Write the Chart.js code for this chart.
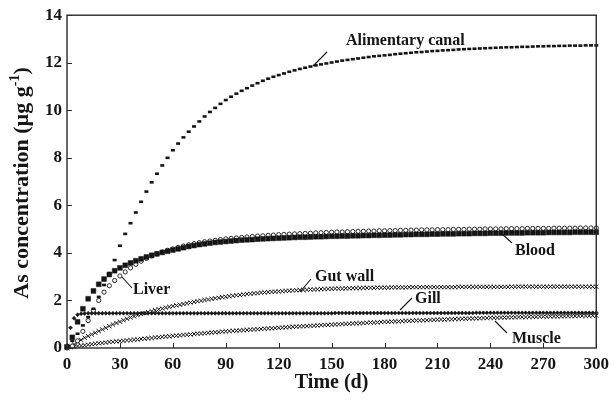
<!DOCTYPE html>
<html>
<head>
<meta charset="utf-8">
<script src="https://cdn.jsdelivr.net/npm/chart.js@4.4.1/dist/chart.umd.min.js"></script>
<style>
html,body{margin:0;padding:0;background:#fff;}
#wrap{width:615px;height:408px;}
</style>
</head>
<body>
<div id="wrap"><canvas id="c" width="615" height="408"></canvas></div>
<script>
// ---- Data ----
const xTicks = [0,30,60,90,120,150,180,210,240,270,300];
const yTicks = [0,2,4,6,8,10,12,14];

const days3 = [0,3,6,9,12,15,18,21,24,27,30,33,36,39,42,45,48,51,54,57,60,63,66,69,72,75,78,81,84,87,90,93,96,99,102,105,108,111,114,117,120,123,126,129,132,135,138,141,144,147,150,153,156,159,162,165,168,171,174,177,180,183,186,189,192,195,198,201,204,207,210,213,216,219,222,225,228,231,234,237,240,243,246,249,252,255,258,261,264,267,270,273,276,279,282,285,288,291,294,297,300];
const days2 = [0,2,4,6,8,10,12,14,16,18,20,22,24,26,28,30,32,34,36,38,40,42,44,46,48,50,52,54,56,58,60,62,64,66,68,70,72,74,76,78,80,82,84,86,88,90,92,94,96,98,100,102,104,106,108,110,112,114,116,118,120,122,124,126,128,130,132,134,136,138,140,142,144,146,148,150,152,154,156,158,160,162,164,166,168,170,172,174,176,178,180,182,184,186,188,190,192,194,196,198,200,202,204,206,208,210,212,214,216,218,220,222,224,226,228,230,232,234,236,238,240,242,244,246,248,250,252,254,256,258,260,262,264,266,268,270,272,274,276,278,280,282,284,286,288,290,292,294,296,298,300];

const alimentaryCanal = [0,0.3,0.6,0.95,1.3,1.65,2.15,2.65,3.15,3.7,
4.3,4.8,5.25,5.7,6.15,6.58,6.97,7.33,7.68,8.0,
8.32,8.6,8.86,9.1,9.32,9.53,9.74,9.93,10.1,10.27,
10.43,10.57,10.7,10.82,10.93,11.04,11.14,11.24,11.33,11.41,
11.48,11.55,11.62,11.68,11.74,11.79,11.84,11.89,11.93,11.97,
12.01,12.05,12.09,12.12,12.15,12.18,12.21,12.24,12.27,12.29,
12.31,12.33,12.36,12.38,12.4,12.42,12.44,12.45,12.47,12.49,
12.5,12.52,12.53,12.54,12.56,12.57,12.58,12.59,12.6,12.61,
12.62,12.63,12.64,12.65,12.65,12.66,12.67,12.67,12.68,12.69,
12.69,12.7,12.7,12.71,12.71,12.72,12.72,12.72,12.73,12.73,
12.73];

const blood = [0.05,0.45,1.1,1.65,2.07,2.4,2.68,2.9,3.09,3.25,
3.37,3.48,3.58,3.67,3.75,3.83,3.9,3.96,4.02,4.07,
4.12,4.17,4.22,4.27,4.31,4.35,4.38,4.41,4.44,4.46,
4.48,4.5,4.52,4.54,4.55,4.56,4.58,4.59,4.6,4.61,
4.62,4.63,4.64,4.65,4.66,4.66,4.67,4.68,4.68,4.69,
4.7,4.7,4.71,4.71,4.72,4.72,4.73,4.73,4.74,4.74,
4.75,4.75,4.76,4.76,4.77,4.77,4.78,4.78,4.78,4.79,
4.79,4.8,4.8,4.8,4.81,4.81,4.81,4.82,4.82,4.82,
4.83,4.83,4.83,4.84,4.84,4.84,4.84,4.85,4.85,4.85,
4.85,4.86,4.86,4.86,4.86,4.86,4.87,4.87,4.87,4.87,
4.87];

const liver = [0,0.08,0.3,0.7,1.15,1.58,2.0,2.35,2.62,2.84,
3.03,3.2,3.37,3.52,3.65,3.77,3.87,3.96,4.04,4.11,
4.17,4.23,4.29,4.34,4.39,4.43,4.47,4.5,4.53,4.56,
4.59,4.61,4.63,4.65,4.67,4.69,4.71,4.72,4.74,4.75,
4.77,4.78,4.79,4.8,4.81,4.82,4.83,4.84,4.85,4.86,
4.87,4.88,4.88,4.89,4.9,4.91,4.91,4.92,4.92,4.93,
4.93,4.94,4.94,4.95,4.95,4.96,4.96,4.97,4.97,4.97,
4.98,4.98,4.98,4.99,4.99,4.99,5.0,5.0,5.0,5.01,
5.01,5.01,5.01,5.02,5.02,5.02,5.02,5.03,5.03,5.03,
5.03,5.03,5.04,5.04,5.04,5.04,5.04,5.05,5.05,5.05,
5.05];

const gutWall = [0,0.06,0.15,0.25,0.34,0.43,0.5,0.57,0.64,0.71,
0.78,0.85,0.92,0.99,1.05,1.11,1.17,1.23,1.28,1.33,
1.38,1.43,1.47,1.51,1.55,1.59,1.63,1.66,1.7,1.73,
1.76,1.79,1.82,1.85,1.88,1.91,1.94,1.97,1.99,2.02,
2.04,2.07,2.09,2.11,2.14,2.16,2.18,2.2,2.22,2.23,
2.25,2.27,2.28,2.3,2.31,2.33,2.34,2.35,2.36,2.37,
2.38,2.39,2.4,2.41,2.42,2.43,2.44,2.44,2.45,2.46,
2.46,2.47,2.48,2.48,2.49,2.49,2.5,2.5,2.5,2.51,
2.51,2.52,2.52,2.52,2.53,2.53,2.53,2.53,2.54,2.54,
2.54,2.54,2.55,2.55,2.55,2.55,2.55,2.56,2.56,2.56,
2.56,2.56,2.56,2.56,2.56,2.56,2.56,2.56,2.56,2.56,
2.56,2.57,2.57,2.57,2.57,2.57,2.57,2.57,2.57,2.57,
2.57,2.57,2.57,2.57,2.57,2.57,2.58,2.58,2.58,2.58,
2.58,2.58,2.58,2.58,2.58,2.58,2.58,2.58,2.58,2.58,
2.58,2.58,2.58,2.58,2.58,2.58,2.58,2.58,2.58,2.58,
2.58];

const gill = [0,0.85,1.25,1.4,1.44,1.45,1.46,1.46,1.46,1.46,
1.46,1.46,1.46,1.46,1.46,1.46,1.46,1.46,1.46,1.46,
1.46,1.46,1.46,1.46,1.46,1.46,1.46,1.46,1.46,1.46,
1.46,1.46,1.46,1.46,1.46,1.46,1.46,1.46,1.46,1.46,
1.46,1.46,1.46,1.46,1.46,1.46,1.46,1.46,1.46,1.46,
1.46,1.46,1.46,1.46,1.46,1.46,1.46,1.46,1.46,1.46,
1.46,1.46,1.46,1.46,1.46,1.46,1.46,1.46,1.46,1.46,
1.46,1.46,1.46,1.46,1.46,1.46,1.47,1.47,1.47,1.47,
1.47,1.47,1.47,1.47,1.47,1.47,1.47,1.47,1.47,1.47,
1.47,1.47,1.47,1.47,1.47,1.47,1.47,1.47,1.47,1.47,
1.47,1.47,1.47,1.47,1.47,1.47,1.47,1.47,1.47,1.47,
1.47,1.47,1.47,1.47,1.47,1.47,1.48,1.48,1.48,1.48,
1.48,1.48,1.48,1.48,1.48,1.48,1.48,1.48,1.48,1.48,
1.48,1.48,1.48,1.48,1.48,1.48,1.48,1.48,1.48,1.48,
1.48,1.48,1.48,1.48,1.48,1.48,1.48,1.48,1.48,1.48,
1.48];

const muscle = [0,0.03,0.05,0.08,0.1,0.12,0.14,0.16,0.18,0.2,
0.21,0.23,0.25,0.26,0.28,0.29,0.3,0.32,0.33,0.35,
0.36,0.38,0.39,0.41,0.42,0.44,0.45,0.47,0.48,0.49,
0.51,0.52,0.53,0.55,0.56,0.57,0.59,0.6,0.61,0.62,
0.64,0.65,0.66,0.67,0.69,0.7,0.71,0.72,0.73,0.74,
0.75,0.76,0.77,0.78,0.79,0.8,0.81,0.82,0.83,0.84,
0.85,0.86,0.87,0.88,0.89,0.9,0.91,0.92,0.92,0.93,
0.94,0.95,0.96,0.97,0.97,0.98,0.99,1.0,1.01,1.01,
1.02,1.03,1.04,1.04,1.05,1.06,1.07,1.07,1.08,1.09,
1.1,1.1,1.11,1.12,1.12,1.13,1.14,1.14,1.15,1.16,
1.16,1.17,1.17,1.18,1.19,1.19,1.2,1.2,1.21,1.21,
1.22,1.22,1.23,1.23,1.24,1.24,1.25,1.25,1.26,1.26,
1.27,1.27,1.27,1.28,1.28,1.29,1.29,1.29,1.3,1.3,
1.3,1.31,1.31,1.31,1.32,1.32,1.32,1.33,1.33,1.33,
1.33,1.34,1.34,1.34,1.34,1.35,1.35,1.35,1.35,1.36,
1.36];

const seriesLabels = ['Alimentary canal','Blood','Liver','Gut wall','Gill','Muscle'];
const xTitle = 'Time (d)';
const yTitleMain = 'As concentration (\u00B5g g';
const yTitleSup = '-1';
const yTitleEnd = ')';

// ---- Build ----
const FONT = '"Liberation Serif","Times New Roman",Times,serif';
const INK = '#151515';
const pts = (xs, ys) => xs.map((x, i) => ({x: x, y: ys[i]}));

const annot = [
  {text: seriesLabels[0], tx: 346, ty: 41, l: [313, 66, 327, 52]},
  {text: seriesLabels[1], tx: 515, ty: 251, l: [500, 232, 512, 243]},
  {text: seriesLabels[2], tx: 133, ty: 290, l: [122, 277, 132, 288]},
  {text: seriesLabels[3], tx: 315, ty: 277, l: [300, 292, 311, 279]},
  {text: seriesLabels[4], tx: 415, ty: 299, l: [400, 310, 412, 298]},
  {text: seriesLabels[5], tx: 512, ty: 339, l: [495, 321, 507, 333]}
];

const deco = {
  id: 'deco',
  afterDatasetsDraw(chart) {
    const ctx = chart.ctx;
    const a = chart.chartArea;
    const xs = chart.scales.x, ys = chart.scales.y;
    ctx.save();
    ctx.strokeStyle = '#2a2a2a';
    ctx.lineWidth = 1.4;
    ctx.strokeRect(a.left, a.top, a.right - a.left, a.bottom - a.top);
    ctx.lineWidth = 1;
    ctx.beginPath();
    xTicks.forEach(v => {
      const p = Math.round(xs.getPixelForValue(v)) + 0.5;
      ctx.moveTo(p, a.bottom); ctx.lineTo(p, a.bottom - 5);
    });
    yTicks.forEach(v => {
      const p = Math.round(ys.getPixelForValue(v)) + 0.5;
      ctx.moveTo(a.left, p); ctx.lineTo(a.left + 5, p);
    });
    ctx.stroke();

    // annotations
    ctx.fillStyle = INK;
    ctx.strokeStyle = INK;
    ctx.lineWidth = 1.1;
    ctx.font = 'bold 16px ' + FONT;
    ctx.textBaseline = 'middle';
    ctx.textAlign = 'left';
    annot.forEach(o => {
      ctx.fillText(o.text, o.tx, o.ty);
      ctx.beginPath();
      ctx.moveTo(o.l[0], o.l[1]); ctx.lineTo(o.l[2], o.l[3]);
      ctx.stroke();
    });

    // x title
    ctx.font = 'bold 20px ' + FONT;
    ctx.textAlign = 'center';
    ctx.fillText(xTitle, (a.left + a.right) / 2, 383);

    // y title with superscript
    ctx.translate(22, 183);
    ctx.rotate(-Math.PI / 2);
    const fMain = 'bold 22px ' + FONT, fSup = 'bold 14px ' + FONT;
    ctx.font = fMain;
    const w1 = ctx.measureText(yTitleMain).width;
    const w3 = ctx.measureText(yTitleEnd).width;
    ctx.font = fSup;
    const w2 = ctx.measureText(yTitleSup).width;
    let x0 = -(w1 + w2 + w3) / 2;
    ctx.textAlign = 'left';
    ctx.font = fMain;
    ctx.fillText(yTitleMain, x0, 0);
    ctx.font = fSup;
    ctx.fillText(yTitleSup, x0 + w1, -7);
    ctx.font = fMain;
    ctx.fillText(yTitleEnd, x0 + w1 + w2, 0);
    ctx.restore();
  }
};

const common = {showLine: false, clip: false, pointHoverRadius: 0};

new Chart(document.getElementById('c'), {
  type: 'scatter',
  data: {
    datasets: [
      Object.assign({label: seriesLabels[0], data: pts(days3, alimentaryCanal), pointStyle: 'line', pointRadius: 2, pointBorderWidth: 2.6, borderColor: INK, backgroundColor: INK}, common),
      Object.assign({label: seriesLabels[1], data: pts(days3, blood), pointStyle: 'rect', pointRadius: 3.4, pointBorderWidth: 0.5, borderColor: INK, backgroundColor: INK}, common),
      Object.assign({label: seriesLabels[2], data: pts(days3, liver), pointStyle: 'circle', pointRadius: 2.1, pointBorderWidth: 0.9, borderColor: INK, backgroundColor: '#ffffff'}, common),
      Object.assign({label: seriesLabels[3], data: pts(days2, gutWall), pointStyle: 'crossRot', pointRadius: 3, pointBorderWidth: 1, borderColor: INK, backgroundColor: INK}, common),
      Object.assign({label: seriesLabels[4], data: pts(days2, gill), pointStyle: 'rectRot', pointRadius: 2.0, pointBorderWidth: 0.5, borderColor: INK, backgroundColor: INK}, common),
      Object.assign({label: seriesLabels[5], data: pts(days2, muscle), pointStyle: 'crossRot', pointRadius: 3, pointBorderWidth: 1, borderColor: INK, backgroundColor: INK}, common)
    ]
  },
  options: {
    responsive: false,
    devicePixelRatio: 1,
    animation: false,
    events: [],
    layout: {padding: {top: 15, right: 11, left: 0, bottom: 0}},
    plugins: {legend: {display: false}, tooltip: {enabled: false}},
    scales: {
      x: {
        type: 'linear', min: 0, max: 300,
        afterBuildTicks: s => { s.ticks = xTicks.map(v => ({value: v})); },
        ticks: {font: {family: FONT, size: 17, weight: 'bold'}, color: INK, padding: 6, maxRotation: 0, autoSkip: false},
        grid: {display: false, drawTicks: false},
        border: {display: false},
        afterFit: s => { s.height = 60; }
      },
      y: {
        type: 'linear', min: 0, max: 14,
        afterBuildTicks: s => { s.ticks = yTicks.map(v => ({value: v})); },
        ticks: {font: {family: FONT, size: 17, weight: 'bold'}, color: INK, padding: 5},
        grid: {display: false, drawTicks: false},
        border: {display: false},
        afterFit: s => { s.width = 67; }
      }
    }
  },
  plugins: [deco]
});
</script>
</body>
</html>
